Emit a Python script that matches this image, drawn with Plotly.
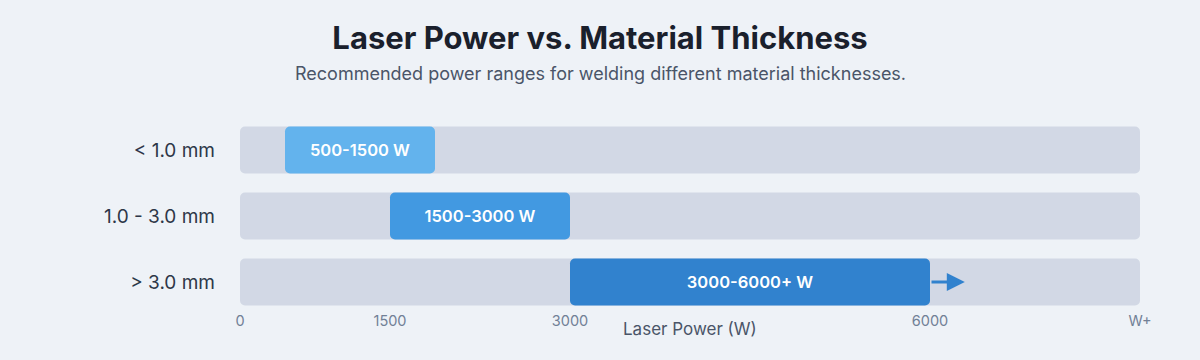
import plotly.graph_objects as go

# ---- data ----
categories = ["< 1.0 mm", "1.0 - 3.0 mm", "> 3.0 mm"]
range_labels = ["500-1500 W", "1500-3000 W", "3000-6000+ W"]
bar_start = [625, 1500, 3000]      # position on the power axis
bar_end = [1875, 3000, 6000]
axis_min, axis_max = 250, 7750     # visible track of the power axis
tick_vals = [250, 1500, 3000, 6000, 7750]
tick_text = ["0", "1500", "3000", "6000", "W+"]
arrow_extension = 290              # "+" arrow past the last bar

bar_colors = ["#63b3ed", "#4299e1", "#3182ce"]
track_color = "#d2d8e5"
bg = "#eef2f7"

rows = list(range(len(categories)))

fig = go.Figure()
# background tracks
fig.add_trace(go.Bar(
    y=rows, x=[axis_max - axis_min] * len(rows), base=[axis_min] * len(rows),
    orientation="h", width=0.71,
    marker=dict(color=track_color, cornerradius=5, line=dict(width=0)),
    hoverinfo="skip", showlegend=False,
))
# power ranges
fig.add_trace(go.Bar(
    y=rows, x=[e - s for s, e in zip(bar_start, bar_end)], base=bar_start,
    orientation="h", width=0.71,
    marker=dict(color=bar_colors, cornerradius=5, line=dict(width=0)),
    text=range_labels, textposition="inside", insidetextanchor="middle",
    textfont=dict(family="Inter", size=16.5, color="white", weight=600),
    constraintext="none",
    showlegend=False,
))

# arrow for the open-ended range
last = len(rows) - 1
fig.add_annotation(
    x=bar_end[last] + arrow_extension, y=rows[last],
    ax=bar_end[last], ay=rows[last], axref="x", ayref="y",
    xref="x", yref="y", text="", showarrow=True,
    arrowhead=2, arrowsize=1.2, arrowwidth=3, arrowcolor="#3182ce",
)

fig.update_layout(
    width=1200, height=360,
    margin=dict(l=240, r=60, t=117, b=50),
    paper_bgcolor=bg, plot_bgcolor=bg,
    barmode="overlay",
    font=dict(family="Inter"),
    title=dict(
        text="<b>Laser Power vs. Material Thickness</b>",
        x=0.5, xref="container", y=1 - 38 / 360, yref="container", yanchor="middle",
        font=dict(family="Inter", size=31, color="#1a202c"),
    ),
    xaxis=dict(
        range=[axis_min, axis_max], tickvals=tick_vals, ticktext=tick_text,
        showgrid=False, zeroline=False, showline=False, ticks="",
        tickfont=dict(family="Inter", size=14.5, color="#718096"),
    ),
    yaxis=dict(
        range=[2.424, -0.5], tickvals=rows, ticktext=categories,
        showgrid=False, zeroline=False, showline=False, ticks="",
        ticklabelstandoff=24,
        tickfont=dict(family="Inter", size=19, color="#2d3748"),
    ),
)

fig.add_annotation(
    text="Recommended power ranges for welding different material thicknesses.",
    xref="paper", yref="paper", x=(600 - 240) / 900, y=1 + (117 - 73) / 193,
    xanchor="center", yanchor="middle", showarrow=False,
    font=dict(family="Inter", size=18, color="#4a5568"),
)
fig.add_annotation(
    text="Laser Power (W)",
    xref="paper", yref="paper", x=0.5, y=(310 - 329) / 193,
    xanchor="center", yanchor="middle", showarrow=False,
    font=dict(family="Inter", size=17, color="#4a5568"),
)

fig.write_html(
    "out.html",
    config={"displayModeBar": False},
    post_script="document.body.style.margin='0';document.body.style.background='#eef2f7';",
)
